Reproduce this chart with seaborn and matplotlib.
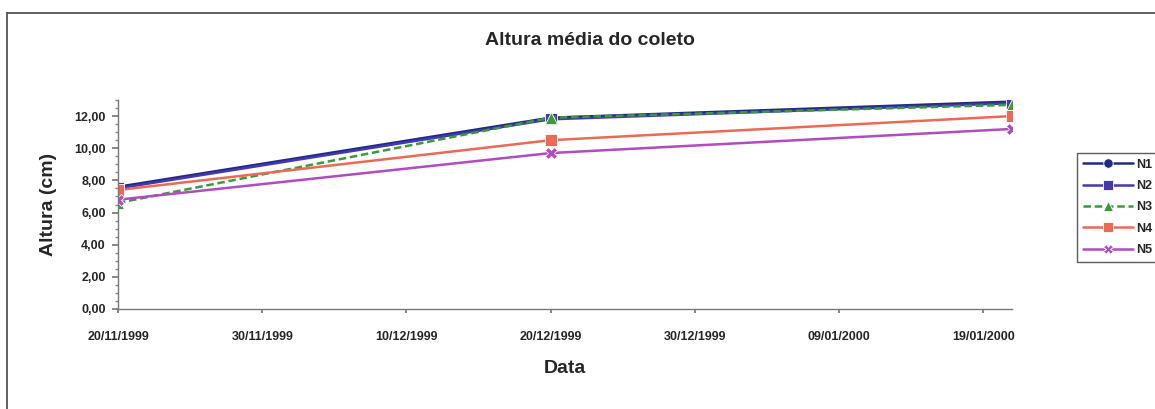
import matplotlib
matplotlib.use("Agg")
import matplotlib.pyplot as plt
import matplotlib.dates as mdates
from matplotlib.ticker import MultipleLocator, FuncFormatter
from matplotlib.lines import Line2D
import seaborn as sns
import pandas as pd

# Collection dates and mean stem height (cm) per treatment
datas = ["1999-11-20", "1999-12-20", "2000-01-21"]
n1 = [7.6, 11.9, 12.9]
n2 = [7.5, 11.8, 12.8]
n3 = [6.6, 11.9, 12.7]
n4 = [7.4, 10.5, 12.0]
n5 = [6.8, 9.7, 11.2]
series = ["N1", "N2", "N3", "N4", "N5"]
x_ticks = ["1999-11-20", "1999-11-30", "1999-12-10", "1999-12-20",
           "1999-12-30", "2000-01-09", "2000-01-19"]

valores = {"N1": n1, "N2": n2, "N3": n3, "N4": n4, "N5": n5}
df = pd.DataFrame(
    [(pd.Timestamp(d), s, v) for s in series for d, v in zip(datas, valores[s])],
    columns=["Data", "Serie", "Altura"],
)

sns.set_theme(style="white")
plt.rcParams["font.family"] = ["Liberation Sans", "DejaVu Sans"]

cores = {"N1": "#1f2a80", "N2": "#4438b0", "N3": "#3a9a3a",
         "N4": "#ec6a55", "N5": "#b04cc0"}
marcadores = {"N1": "o", "N2": "s", "N3": "^", "N4": "s", "N5": "X"}
tracos = {"N1": "", "N2": "", "N3": (3, 1.5), "N4": "", "N5": ""}

fig = plt.figure(figsize=(11.55, 4.09), dpi=100)
ax = fig.add_axes([0.1022, 0.2445, 0.774, 0.511])

sns.lineplot(data=df, x="Data", y="Altura", hue="Serie", style="Serie",
             palette=cores, markers=marcadores, dashes=tracos,
             markersize=8, linewidth=1.8, markeredgewidth=0.6,
             ax=ax, legend=True)

ax.set_ylim(0, 13)
ax.set_xlim(pd.Timestamp(datas[0]), pd.Timestamp(datas[-1]))
ax.yaxis.set_major_locator(MultipleLocator(2))
ax.yaxis.set_minor_locator(MultipleLocator(0.5))
ax.yaxis.set_major_formatter(FuncFormatter(lambda v, p: f"{v:.2f}".replace(".", ",")))
ax.set_xticks([pd.Timestamp(t) for t in x_ticks])
ax.xaxis.set_major_formatter(mdates.DateFormatter("%d/%m/%Y"))

for sp in ["top", "right"]:
    ax.spines[sp].set_visible(False)
for sp in ["left", "bottom"]:
    ax.spines[sp].set_color("#777777")
    ax.spines[sp].set_linewidth(1.0)
ax.spines["bottom"].set_linestyle((0, (4, 1)))

ax.tick_params(axis="y", which="major", length=4, color="#777777",
               labelsize=9, pad=5, direction="out", left=True)
ax.tick_params(axis="y", which="minor", length=2, color="#888888", left=True)
ax.tick_params(axis="x", which="major", direction="out", length=3,
               color="#777777", labelsize=9, pad=13, bottom=True)
for lbl in ax.get_xticklabels() + ax.get_yticklabels():
    lbl.set_fontweight("bold")

ax.set_xlabel("Data", fontsize=14, fontweight="bold", labelpad=12)
ax.set_ylabel("Altura (cm)", fontsize=14, fontweight="bold", labelpad=12)
fig.text(0.511, 0.902, "Altura média do coleto", ha="center", va="center",
         fontsize=14, fontweight="bold")

leg = ax.legend(loc="upper left", title=None, fontsize=9, frameon=True,
                fancybox=False, borderpad=0.45, borderaxespad=0,
                handlelength=4.0, labelspacing=0.75, handletextpad=0.25,
                markerscale=0.85)
leg.set_bbox_to_anchor((1077 / 1155, 1 - 153 / 409), transform=fig.transFigure)
leg.get_frame().set_edgecolor("#333333")
leg.get_frame().set_linewidth(1.0)
for t in leg.get_texts():
    t.set_fontweight("bold")

# Outer chart border (left and top edges)
fig.add_artist(Line2D([7 / 1155, 7 / 1155], [0, 1 - 13 / 409],
                      transform=fig.transFigure, color="#555555", linewidth=1.3))
fig.add_artist(Line2D([7 / 1155, 1], [1 - 13 / 409, 1 - 13 / 409],
                      transform=fig.transFigure, color="#555555", linewidth=1.3))

fig.savefig("out.png", dpi=100)
